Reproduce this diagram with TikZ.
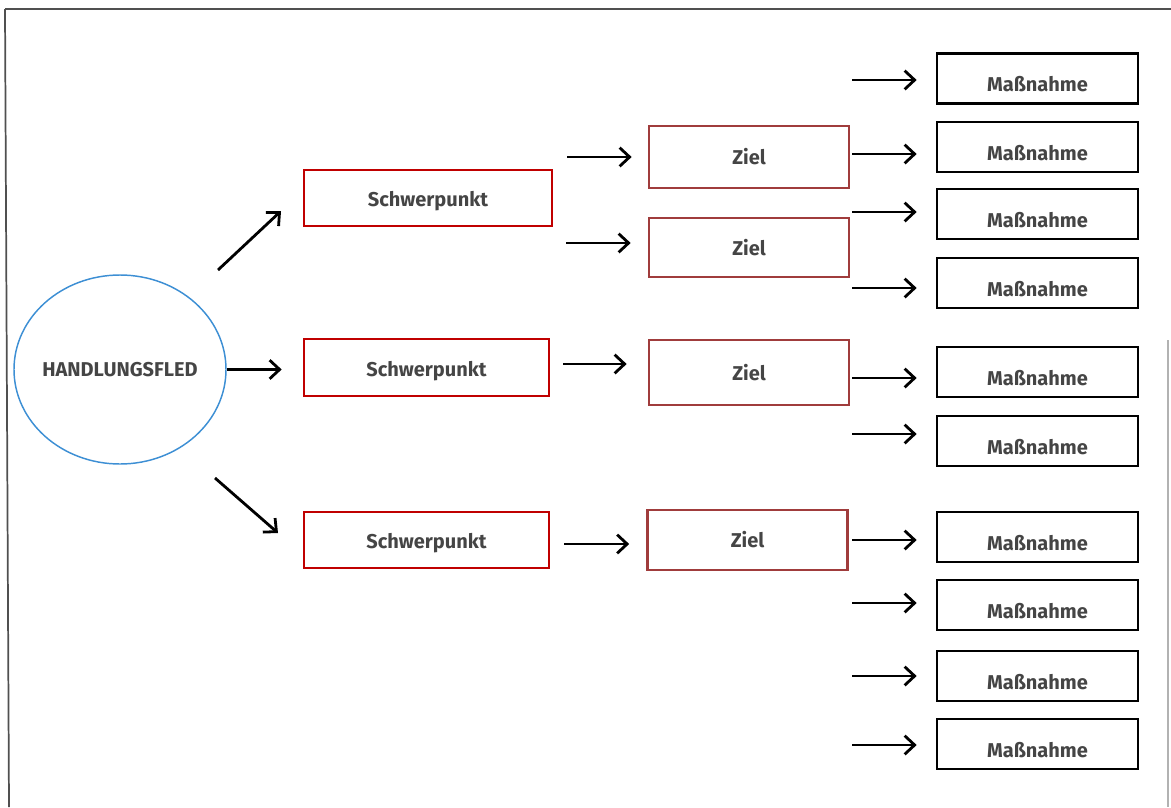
\documentclass[tikz,border=0pt]{standalone}
\usepackage{fontspec}
\setmainfont{Fira Sans}
\usetikzlibrary{arrows.meta,shapes.geometric,calc}
\definecolor{txt}{HTML}{454545}
\definecolor{spred}{HTML}{C00000}
\definecolor{zielred}{HTML}{A03C3C}
\definecolor{ellblue}{HTML}{3D8FD4}
\definecolor{framegray}{HTML}{505050}
\tikzset{
  lbl/.style={text=txt, font=\fontsize{15}{18}\selectfont\bfseries},
  box/.style={draw, rectangle, line width=2pt, inner sep=0pt},
  spbox/.style={box, draw=spred, label={[lbl, yshift=-2.5pt]center:Schwerpunkt}},
  zielbox/.style={box, draw=zielred, minimum width=150pt, label={[lbl]center:Ziel}},
  mbox/.style={box, draw=black, minimum width=150.75pt, minimum height=37.5pt, label={[lbl, yshift=-4.5pt]center:Maßnahme}},
  hfell/.style={ellipse, draw=ellblue, line width=1.1pt, minimum width=159pt, minimum height=141.75pt, inner sep=0pt, label={[lbl]center:HANDLUNGSFLED}},
  arr/.style={-{Straight Barb[length=7.5pt,width=14pt]}, line width=2.1pt, black},
  marr/.style={arr, shorten >=14.25pt}
}
\begin{document}
\begin{tikzpicture}[x=0.75pt, y=-0.75pt]
\useasboundingbox (0,0) rectangle (1171,807);
% frame
\draw[framegray, line width=1.3pt] (5,9) -- (1171,9);
\draw[framegray, line width=1.3pt] (5,9) -- (9,807);
\draw[gray!60, line width=1pt] (1168,340) -- (1168,807);

% ellipse
\node[hfell] (hf) at (120,369.5) {};

% Schwerpunkt boxes
\node[spbox, minimum width=186pt, minimum height=42pt] (sp1) at (428,198) {};
\node[spbox, minimum width=183.75pt, minimum height=42.75pt] (sp2) at (426.5,367.5) {};
\node[spbox, minimum width=183.75pt, minimum height=42pt] (sp3) at (426.5,540) {};

% Ziel boxes
\node[zielbox, minimum height=46.5pt] (z1) at (749,157) {};
\node[zielbox, minimum height=44.25pt] (z2) at (749,247.5) {};
\node[zielbox, minimum height=48.75pt] (z3) at (749,372.5) {};
\node[zielbox, minimum height=45pt] (z4) at (747.5,540) {};

% Massnahme boxes
\foreach \i/\y in {1/78.5, 2/147, 3/214, 4/283, 5/372, 6/441, 7/537, 8/605, 9/676, 10/744}{
  \node[mbox] (m\i) at (1037.5,\y) {};
}

% ellipse -> Schwerpunkt
\coordinate (e1s) at (218,270);
\coordinate (e1e) at (281,211);
\draw[arr] (e1s) -- (e1e);
\draw[arr, shorten >=15.75pt] (hf.east) -- (sp2.west |- hf.east);
\coordinate (e3s) at (215,478);
\coordinate (e3e) at (278,533);
\draw[arr] (e3s) -- (e3e);

% Schwerpunkt -> Ziel
\coordinate (s1) at (567,157);
\coordinate (s2) at (566,243);
\coordinate (s3) at (563,364);
\coordinate (s4) at (564,544);
\draw[arr, shorten >=12pt] (s1) -- (z1.west |- s1);
\draw[arr, shorten >=12.75pt] (s2) -- (z2.west |- s2);
\draw[arr, shorten >=15.75pt] (s3) -- (z3.west |- s3);
\draw[arr, shorten >=12.75pt] (s4) -- (z4.west |- s4);

% Ziel -> Massnahme
\foreach \i/\y in {1/80, 2/154, 3/212, 4/288, 5/378, 6/434, 7/540, 8/603, 9/676, 10/745}{
  \coordinate (t\i) at (852,\y);
  \draw[marr] (t\i) -- (m\i.west |- t\i);
}
\end{tikzpicture}
\end{document}
